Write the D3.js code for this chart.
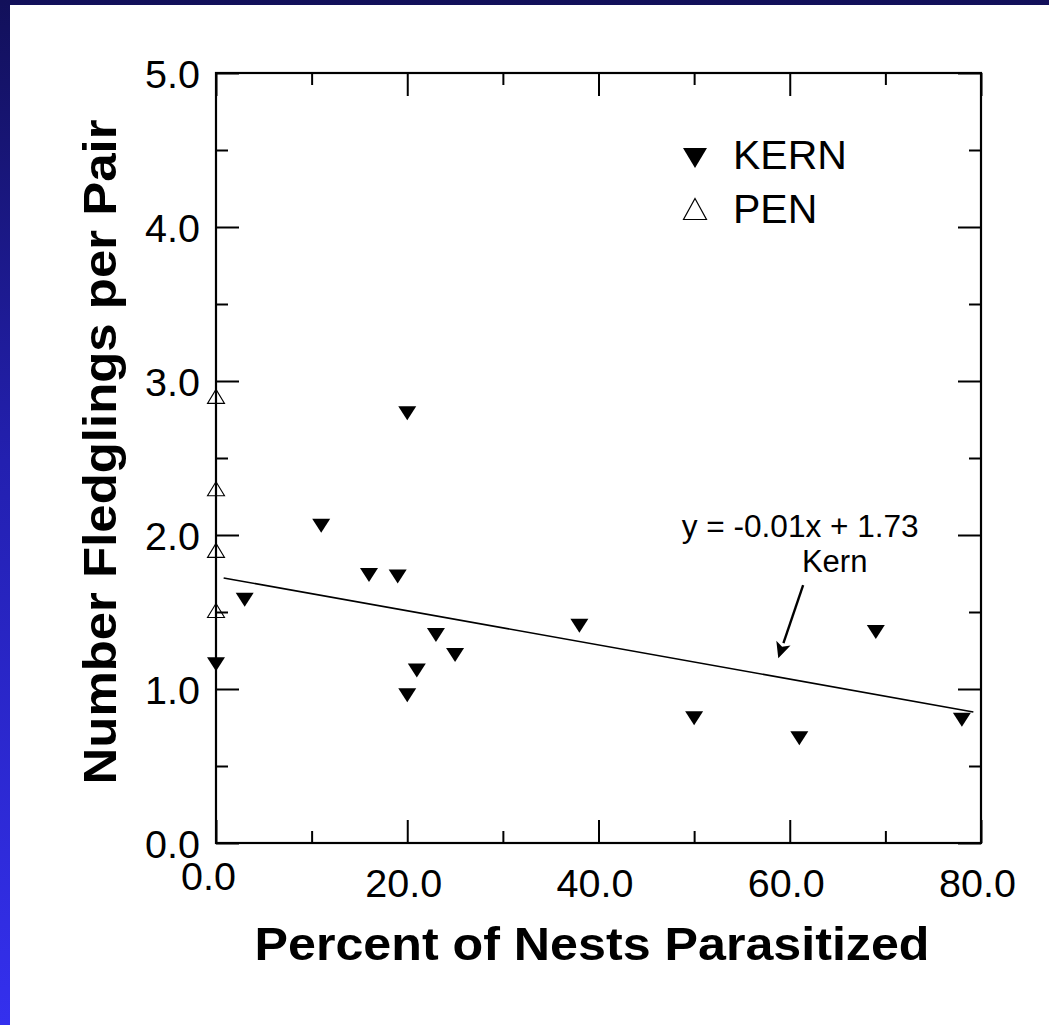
<!DOCTYPE html>
<html>
<head>
<meta charset="utf-8">
<script src="https://cdn.jsdelivr.net/npm/d3@7"></script>
<style>
  html, body { margin: 0; padding: 0; background: #fff; }
  svg { display: block; font-family: "Liberation Sans", Arial, Helvetica, sans-serif; }
</style>
</head>
<body>
<svg id="chart" width="1049" height="1025"></svg>
<script>
// ---- data ----
const kernX = [0, 3, 11, 16, 19, 20, 20, 21, 23, 25, 38, 50, 61, 69, 78];
const kernY = [1.16, 1.58, 2.06, 1.74, 1.73, 2.79, 0.96, 1.12, 1.35, 1.22, 1.41, 0.81, 0.68, 1.37, 0.80];
const penX = [0, 0, 0, 0];
const penY = [2.90, 2.30, 1.90, 1.51];
const xMajorTicks = [0, 20, 40, 60, 80];
const xMinorTicks = [10, 30, 50, 70];
const yMajorTicks = [0, 1, 2, 3, 4, 5];
const yMinorTicks = [0.5, 1.5, 2.5, 3.5, 4.5];
const fitIntercept = 1.73;
const fitSlope = -0.0111;
const fitRange = [0.8, 79.2];
const equationLabel = "y = -0.01x + 1.73";
const fitLabel = "Kern";
const seriesNames = ["KERN", "PEN"];
const xTitle = "Percent of Nests Parasitized";
const yTitle = "Number Fledglings per Pair";

// ---- layout ----
const svg = d3.select("#chart");
const W = 1049, H = 1025;
const plot = { left: 216, right: 981, top: 73, bottom: 843 };

const defs = svg.append("defs");
const grad = defs.append("linearGradient").attr("id", "bg").attr("x1", 0).attr("y1", 0).attr("x2", 0).attr("y2", 1);
grad.append("stop").attr("offset", "0%").attr("stop-color", "#12105a");
grad.append("stop").attr("offset", "45%").attr("stop-color", "#2320b0");
grad.append("stop").attr("offset", "100%").attr("stop-color", "#3430ee");
svg.append("rect").attr("width", W).attr("height", H).attr("fill", "url(#bg)");
svg.append("rect").attr("x", 10).attr("y", 5).attr("width", W - 10).attr("height", H - 5).attr("fill", "#fff");

const x = d3.scaleLinear().domain([0, 80]).range([plot.left, plot.right]);
const y = d3.scaleLinear().domain([0, 5]).range([plot.bottom, plot.top]);

const fmt = d3.format(".1f");
const tickFont = 39.5;

function styleAxis(g) {
  g.select(".domain").remove();
  g.selectAll("line").attr("stroke", "#000").attr("stroke-width", 2);
}

// bottom axis major
const gxB = svg.append("g").attr("transform", `translate(0,${plot.bottom})`)
  .call(d3.axisBottom(x).tickValues(xMajorTicks).tickSize(-23).tickSizeOuter(0).tickFormat(fmt));
styleAxis(gxB);
gxB.selectAll("text").attr("fill", "#000").attr("font-size", tickFont)
  .attr("font-family", "Liberation Sans, Arial, sans-serif")
  .attr("y", d => d === 0 ? 47 : 54).attr("dy", 0).attr("dx", d => d === 0 ? -8 : -4);
svg.append("g").attr("transform", `translate(0,${plot.bottom})`)
  .call(d3.axisBottom(x).tickValues(xMinorTicks).tickSize(-12).tickSizeOuter(0).tickFormat(""))
  .call(styleAxis);

// top axis
svg.append("g").attr("transform", `translate(0,${plot.top})`)
  .call(d3.axisTop(x).tickValues(xMajorTicks).tickSize(-23).tickSizeOuter(0).tickFormat(""))
  .call(styleAxis);
svg.append("g").attr("transform", `translate(0,${plot.top})`)
  .call(d3.axisTop(x).tickValues(xMinorTicks).tickSize(-12).tickSizeOuter(0).tickFormat(""))
  .call(styleAxis);

// left axis
const gyL = svg.append("g").attr("transform", `translate(${plot.left},0)`)
  .call(d3.axisLeft(y).tickValues(yMajorTicks).tickSize(-23).tickSizeOuter(0).tickFormat(fmt));
styleAxis(gyL);
gyL.selectAll("text").attr("fill", "#000").attr("font-size", tickFont)
  .attr("font-family", "Liberation Sans, Arial, sans-serif")
  .attr("x", -16).attr("dy", "0.36em");
svg.append("g").attr("transform", `translate(${plot.left},0)`)
  .call(d3.axisLeft(y).tickValues(yMinorTicks).tickSize(-12).tickSizeOuter(0).tickFormat(""))
  .call(styleAxis);

// right axis
svg.append("g").attr("transform", `translate(${plot.right},0)`)
  .call(d3.axisRight(y).tickValues(yMajorTicks).tickSize(-23).tickSizeOuter(0).tickFormat(""))
  .call(styleAxis);
svg.append("g").attr("transform", `translate(${plot.right},0)`)
  .call(d3.axisRight(y).tickValues(yMinorTicks).tickSize(-12).tickSizeOuter(0).tickFormat(""))
  .call(styleAxis);

// frame
svg.append("rect")
  .attr("x", x(0)).attr("y", y(5))
  .attr("width", x(80) - x(0)).attr("height", y(0) - y(5))
  .attr("fill", "none").attr("stroke", "#000").attr("stroke-width", 2.2);

// regression line
svg.append("line")
  .attr("x1", x(fitRange[0])).attr("y1", y(fitIntercept + fitSlope * fitRange[0]))
  .attr("x2", x(fitRange[1])).attr("y2", y(fitIntercept + fitSlope * fitRange[1]))
  .attr("stroke", "#000").attr("stroke-width", 1.6);

// symbols
const downTri = (w, h) => `M${-w/2},${-h/2}L${w/2},${-h/2}L0,${h/2}Z`;
const upTri = (w, h) => `M0,${-h/2}L${w/2},${h/2}L${-w/2},${h/2}Z`;

svg.append("g").selectAll("path").data(penX.map((v, i) => [v, penY[i]]))
  .join("path")
  .attr("transform", d => `translate(${x(d[0])},${y(d[1])})`)
  .attr("d", upTri(17, 14))
  .attr("fill", "none").attr("stroke", "#000").attr("stroke-width", 1.1);

svg.append("g").selectAll("path").data(kernX.map((v, i) => [v, kernY[i]]))
  .join("path")
  .attr("transform", d => `translate(${x(d[0])},${y(d[1])})`)
  .attr("d", downTri(18, 14))
  .attr("fill", "#000");

// annotation
svg.append("text").attr("x", x(48.7)).attr("y", y(1.99))
  .attr("font-size", 31.5).attr("fill", "#000").attr("textLength", 237).attr("lengthAdjust", "spacingAndGlyphs")
  .text(equationLabel);
svg.append("text").attr("x", x(64.7)).attr("y", y(1.76))
  .attr("font-size", 31).attr("fill", "#000").attr("text-anchor", "middle")
  .text(fitLabel);

// arrow
const a0 = [x(61.4), y(1.675)], a1 = [x(58.8), y(1.20)];
const ang = Math.atan2(a1[1] - a0[1], a1[0] - a0[0]);
const headL = 16, headW = 7.5;
const bx = a1[0] - headL * Math.cos(ang), by = a1[1] - headL * Math.sin(ang);
svg.append("line").attr("x1", a0[0]).attr("y1", a0[1]).attr("x2", bx).attr("y2", by)
  .attr("stroke", "#000").attr("stroke-width", 2.4);
svg.append("path")
  .attr("d", `M${a1[0]},${a1[1]}L${bx + headW * Math.sin(ang)},${by - headW * Math.cos(ang)}L${bx + 4 * Math.cos(ang)},${by + 4 * Math.sin(ang)}L${bx - headW * Math.sin(ang)},${by + headW * Math.cos(ang)}Z`)
  .attr("fill", "#000");

// legend
const leg = svg.append("g");
leg.append("path").attr("transform", "translate(695,158)").attr("d", downTri(24, 20)).attr("fill", "#000");
leg.append("path").attr("transform", "translate(695,209)").attr("d", upTri(23, 21))
  .attr("fill", "none").attr("stroke", "#000").attr("stroke-width", 1.2);
leg.append("text").attr("x", 733).attr("y", 169).attr("font-size", 41).attr("fill", "#000").text(seriesNames[0]);
leg.append("text").attr("x", 733).attr("y", 223).attr("font-size", 41).attr("fill", "#000").text(seriesNames[1]);

// axis titles
svg.append("text").attr("x", 592).attr("y", 960)
  .attr("text-anchor", "middle").attr("font-weight", "bold").attr("font-size", 47)
  .attr("textLength", 675).attr("lengthAdjust", "spacingAndGlyphs")
  .attr("fill", "#000").text(xTitle);
svg.append("text").attr("transform", "translate(116,452) rotate(-90)")
  .attr("text-anchor", "middle").attr("font-weight", "bold").attr("font-size", 47)
  .attr("textLength", 665).attr("lengthAdjust", "spacingAndGlyphs")
  .attr("fill", "#000").text(yTitle);
</script>
</body>
</html>
